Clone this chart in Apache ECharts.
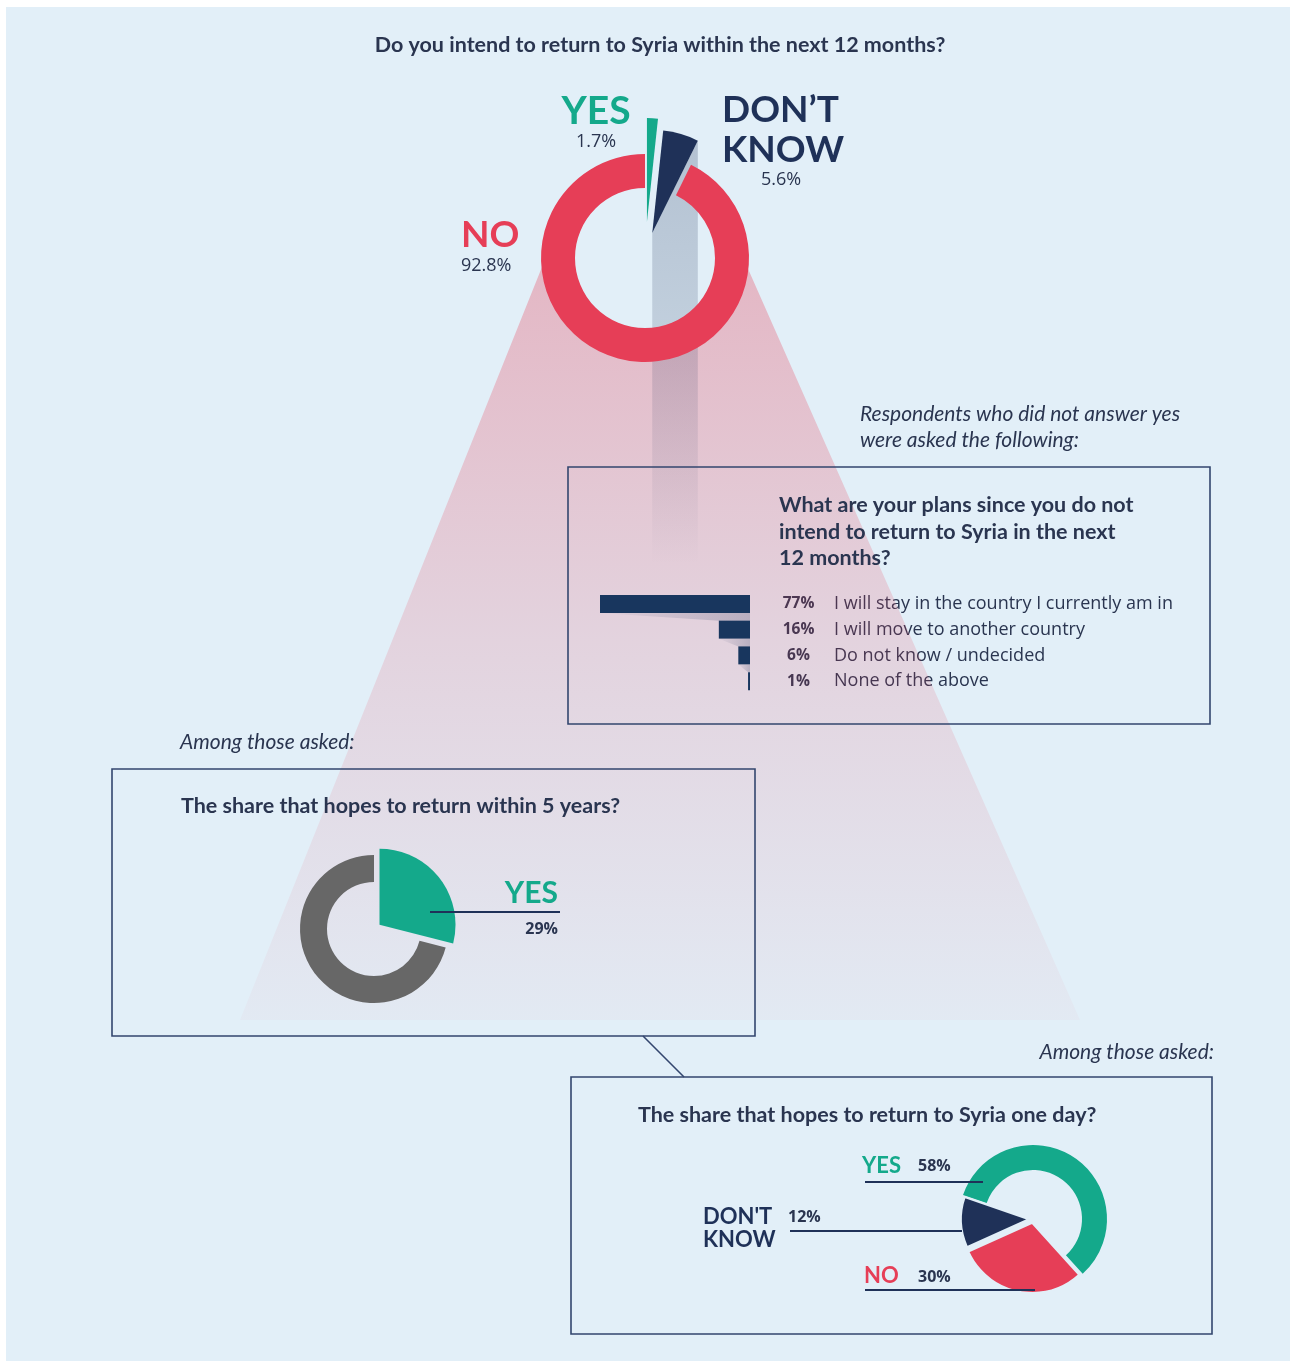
<!DOCTYPE html>
<html>
<head>
<meta charset="utf-8">
<script src="https://cdn.jsdelivr.net/npm/echarts@6/dist/echarts.min.js"></script>
<style>
  html, body { margin: 0; padding: 0; background: #ffffff; }
  #chart { width: 1292px; height: 1362px; }
</style>
</head>
<body>
<div id="chart"></div>
<script>
// Do you intend to return to Syria within the next 12 months?
const mainCategories = ['YES', 'DON’T KNOW', 'NO'];
const mainValues = [1.7, 5.6, 92.8];

// Plans of those not returning within 12 months
const planCategories = [
  'I will stay in the country I currently am in',
  'I will move to another country',
  'Do not know / undecided',
  'None of the above'
];
const planValues = [77, 16, 6, 1];

// Hopes to return within 5 years
const fiveYearCategories = ['YES', 'NO'];
const fiveYearValues = [29, 71];

// Hopes to return to Syria one day (clockwise order of the slices)
const oneDayCategories = ['YES', 'NO', "DON'T KNOW"];
const oneDayValues = [58, 30, 12];

const GREEN = '#14a98b';
const NAVY = '#1f3158';
const BAR = '#18365e';
const RED = '#e63e57';
const GREY = '#676767';
const BG = '#e2eff8';
const INK = '#2a3550';
const FONT = 'Lato, "Open Sans", sans-serif';
const BODY = '"Open Sans", Lato, sans-serif';

const MAIN_C = [645, 258];
const FIVE_C = [374, 929];
const ONE_C = [1033, 1219];

const chart = echarts.init(document.getElementById('chart'), null, { renderer: 'canvas' });

function sliceData(names, values, show, colors, opts) {
  opts = opts || {};
  return values.map((v, i) => {
    const on = show.indexOf(i) >= 0;
    return {
      name: names[i],
      value: v,
      selected: !!(opts.selected && on),
      itemStyle: on
        ? { color: colors[i], borderColor: BG, borderWidth: opts.border || 0 }
        : { color: 'transparent', borderWidth: 0 }
    };
  });
}

function pie(center, radius, data, extra) {
  return Object.assign({
    type: 'pie',
    center: center,
    radius: radius,
    startAngle: 90,
    clockwise: true,
    silent: true,
    animation: false,
    avoidLabelOverlap: false,
    label: { show: false },
    labelLine: { show: false },
    emphasis: { disabled: true },
    data: data
  }, extra || {});
}

const mainColors = [GREEN, NAVY, RED];
const fiveColors = [GREEN, GREY];
const oneColors = [GREEN, RED, NAVY];

const series = [
  // main ring (NO) and the two pulled-out wedges
  pie(MAIN_C, [70, 104], sliceData(mainCategories, mainValues, [2], mainColors)),
  pie(MAIN_C, [0, 104], sliceData(mainCategories, mainValues, [0], mainColors, { selected: true }),
      { selectedMode: 'multiple', selectedOffset: 36, select: { itemStyle: { borderWidth: 0 } } }),
  pie(MAIN_C, [0, 103], sliceData(mainCategories, mainValues, [1], mainColors, { selected: true }),
      { selectedMode: 'multiple', selectedOffset: 26, select: { itemStyle: { borderWidth: 0 } } }),

  // five-year donut
  pie(FIVE_C, [47, 74], sliceData(fiveYearCategories, fiveYearValues, [1], fiveColors)),
  pie(FIVE_C, [0, 76], sliceData(fiveYearCategories, fiveYearValues, [0], fiveColors, { selected: true }),
      { selectedMode: 'multiple', selectedOffset: 7, select: { itemStyle: { borderWidth: 0 } } }),

  // one-day donut
  pie(ONE_C, [49, 74], sliceData(oneDayCategories, oneDayValues, [0], oneColors), { startAngle: 161 }),
  pie(ONE_C, [0, 70], sliceData(oneDayCategories, oneDayValues, [1], oneColors, { selected: true, border: 2 }),
      { startAngle: 161, selectedMode: 'multiple', selectedOffset: 4, select: { itemStyle: { borderWidth: 2, borderColor: BG } } }),
  pie(ONE_C, [0, 68], sliceData(oneDayCategories, oneDayValues, [2], oneColors, { selected: true, border: 2 }),
      { startAngle: 161, selectedMode: 'multiple', selectedOffset: 4, select: { itemStyle: { borderWidth: 2, borderColor: BG } } }),

  // plans bar chart
  {
    type: 'bar',
    xAxisIndex: 0,
    yAxisIndex: 0,
    barWidth: 18,
    silent: true,
    animation: false,
    itemStyle: { color: BAR },
    data: planValues,
    z: 4
  }
];

chart.setOption({
  animation: false,
  grid: [{ left: 600, width: 150, top: 591, height: 103, containLabel: false }],
  xAxis: [{ type: 'value', inverse: true, min: 0, max: 77, show: false }],
  yAxis: [{
    type: 'category',
    position: 'right',
    inverse: true,
    data: planCategories,
    axisLine: { show: false },
    axisTick: { show: false },
    splitLine: { show: false },
    axisLabel: {
      margin: 30,
      align: 'left',
      formatter: (name, i) => '{p|' + planValues[i] + '%}{t|' + name + '}',
      rich: {
        p: { width: 37, align: 'right', fontFamily: BODY, fontWeight: 'bold', fontSize: 15.5, color: INK },
        t: { padding: [0, 0, 0, 17], fontFamily: BODY, fontSize: 18, color: INK }
      }
    }
  }],
  series: series
});

// ---- decorations and annotations ----
function dir(clockDeg) {
  const a = clockDeg * Math.PI / 180;
  return [Math.sin(a), -Math.cos(a)];
}
const mainSum = mainValues.reduce((a, b) => a + b, 0);
const dkStart = mainValues[0] / mainSum * 360;
const dkEnd = (mainValues[0] + mainValues[1]) / mainSum * 360;
const dkMid = (dkStart + dkEnd) / 2;
const dkTip = [MAIN_C[0] + 26 * dir(dkMid)[0], MAIN_C[1] + 26 * dir(dkMid)[1]];
const dkCorner = [dkTip[0] + 103 * dir(dkEnd)[0], dkTip[1] + 103 * dir(dkEnd)[1]];

// funnel cone below the main ring
const conePts = [[240, 1020], [544, 262]];
for (let a = 178; a >= 2; a -= 4) {
  const r = a * Math.PI / 180;
  conePts.push([MAIN_C[0] + 92 * Math.cos(r), MAIN_C[1] + 92 * Math.sin(r)]);
}
conePts.push([745, 262], [1080, 1020]);

function vgrad(y1, y2, stops) {
  return { type: 'linear', x: 0, y: y1, x2: 0, y2: y2, global: true,
    colorStops: stops.map(s => ({ offset: s[0], color: s[1] })) };
}

function text(t, x, y, font, fill, align, extra) {
  return Object.assign({
    type: 'text', z: 10, silent: true,
    style: { text: t, x: x, y: y, font: font, fill: fill,
      align: align || 'left', verticalAlign: 'middle',
      textAlign: align || 'left', textVerticalAlign: 'middle' }
  }, extra || {});
}
function line(x1, y1, x2, y2, w, color) {
  return { type: 'line', z: 10, silent: true,
    shape: { x1: x1, y1: y1, x2: x2, y2: y2 },
    style: { stroke: color || NAVY, lineWidth: w || 2 } };
}
function box(x, y, w, h) {
  return { type: 'rect', z: 3, silent: true,
    shape: { x: x, y: y, width: w, height: h },
    style: { fill: 'none', stroke: '#33466e', lineWidth: 1.6 } };
}

const graphic = [];
graphic.push({ type: 'rect', z: 0, silent: true, shape: { x: 6, y: 7, width: 1284, height: 1354 }, style: { fill: BG } });
graphic.push({ type: 'polygon', z: 1, silent: true, shape: { points: conePts },
  style: { fill: vgrad(262, 1020, [[0, 'rgba(232,64,87,0.32)'], [0.5, 'rgba(232,64,87,0.16)'], [1, 'rgba(232,64,87,0.03)']]) } });
graphic.push({ type: 'polygon', z: 1, silent: true,
  shape: { points: [dkTip, dkCorner, [dkCorner[0], 565], [dkTip[0], 565]] },
  style: { fill: vgrad(140, 565, [[0, 'rgba(31,49,88,0.24)'], [0.5, 'rgba(31,49,88,0.16)'], [1, 'rgba(31,49,88,0)']]) } });

// bar shadows linking consecutive bars
const half = 9;
for (let i = 0; i < planValues.length - 1; i++) {
  const a = chart.convertToPixel({ xAxisIndex: 0, yAxisIndex: 0 }, [planValues[i], i]);
  const b = chart.convertToPixel({ xAxisIndex: 0, yAxisIndex: 0 }, [planValues[i + 1], i + 1]);
  const base = chart.convertToPixel({ xAxisIndex: 0, yAxisIndex: 0 }, [0, i])[0];
  graphic.push({ type: 'polygon', z: 3, silent: true,
    shape: { points: [[a[0], a[1] + half], [base, a[1] + half], [base, b[1] - half], [b[0], b[1] - half]] },
    style: { fill: { type: 'linear', x: 0, y: 0, x2: 1, y2: 0,
      colorStops: [{ offset: 0, color: 'rgba(31,49,88,0.02)' }, { offset: 1, color: 'rgba(31,49,88,0.22)' }] } } });
}

// frames
graphic.push(box(568, 467, 642, 257));
graphic.push(box(112, 769, 643, 267));
graphic.push(box(571, 1077, 641, 257));
graphic.push(line(643, 1036, 684, 1077, 1.6, '#33466e'));

// headings
const head = 'bold 21.5px ' + FONT;
const ital = 'italic 21px ' + FONT;
graphic.push(text('Do you intend to return to Syria within the next 12 months?', 660, 45, head, INK, 'center'));
graphic.push(text('Respondents who did not answer yes', 860, 414, ital, INK));
graphic.push(text('were asked the following:', 860, 440, ital, INK));
graphic.push(text('What are your plans since you do not', 779, 505, head, INK));
graphic.push(text('intend to return to Syria in the next', 779, 532, head, INK));
graphic.push(text('12 months?', 779, 558, head, INK));
graphic.push(text('Among those asked:', 180, 742, ital, INK));
graphic.push(text('The share that hopes to return within 5 years?', 181, 806, head, INK));
graphic.push(text('Among those asked:', 1214, 1052, ital, INK, 'right'));
graphic.push(text('The share that hopes to return to Syria one day?', 638, 1115, head, INK));

// main donut labels
const big = 'bold 37px ' + FONT;
const pct = '18px ' + BODY;
graphic.push(text(mainCategories[0], 596, 111, 'bold 39px ' + FONT, GREEN, 'center'));
graphic.push(text(mainValues[0] + '%', 596, 142, pct, INK, 'center'));
const dkWords = mainCategories[1].split(' ');
graphic.push(text(dkWords[0], 722, 110, big, NAVY));
graphic.push(text(dkWords[1], 722, 150, big, NAVY));
graphic.push(text(mainValues[1] + '%', 781, 180, pct, INK, 'center'));
graphic.push(text(mainCategories[2], 461, 235, big, RED));
graphic.push(text(mainValues[2] + '%', 461, 266, pct, INK));

// five-year labels
graphic.push(text(fiveYearCategories[0], 558, 893, 'bold 30px ' + FONT, GREEN, 'right'));
graphic.push(line(430, 912, 560, 912, 2));
graphic.push(text(fiveYearValues[0] + '%', 558, 929, 'bold 16px ' + BODY, INK, 'right'));

// one-day labels
const mid = 'bold 22px ' + FONT;
const small = 'bold 16px ' + BODY;
graphic.push(text(oneDayCategories[0], 862, 1166, mid, GREEN));
graphic.push(text(oneDayValues[0] + '%', 918, 1166, small, INK));
graphic.push(line(865, 1182, 983, 1182, 2));
const odk = oneDayCategories[2].split(' ');
graphic.push(text(odk[0], 703, 1217, mid, NAVY));
graphic.push(text(odk[1], 703, 1240, mid, NAVY));
graphic.push(text(oneDayValues[2] + '%', 788, 1217, small, INK));
graphic.push(line(790, 1231, 962, 1231, 2));
graphic.push(text(oneDayCategories[1], 864, 1276, mid, RED));
graphic.push(text(oneDayValues[1] + '%', 918, 1277, small, INK));
graphic.push(line(865, 1290, 1035, 1290, 2));

chart.setOption({ graphic: graphic });
</script>
</body>
</html>
